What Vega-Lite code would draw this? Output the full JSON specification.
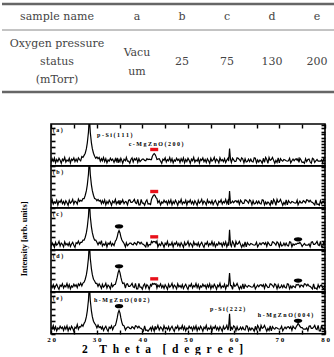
{
  "$schema": "https://vega.github.io/schema/vega-lite/v6.json",
  "padding": 0,
  "background": "white",
  "spacing": 27,
  "config": {
    "font": "Liberation Serif",
    "view": {"stroke": "black", "strokeWidth": 1.6}
  },
  "vconcat": [
    {
      "width": 285,
      "height": 96,
      "view": {"stroke": null},
      "layer": [
        {
          "data": {"values": [{"edge": "top"}, {"edge": "bottom"}]},
          "mark": {"type": "rule", "color": "#666", "strokeWidth": 2.5},
          "encoding": {
            "x": {"datum": 0, "type": "quantitative", "scale": {"domain": [0, 1], "range": [-49, 285]}, "axis": null},
            "x2": {"datum": 1},
            "y": {"field": "edge", "type": "nominal", "scale": {"type": "point", "domain": ["top", "bottom"], "range": [4, 92], "padding": 0}, "axis": null}
          }
        },
        {
          "data": {"values": [{"edge": "header"}]},
          "mark": {"type": "rule", "color": "#888", "strokeWidth": 1},
          "encoding": {
            "x": {"datum": 0, "type": "quantitative", "scale": {"domain": [0, 1], "range": [-49, 285]}, "axis": null},
            "x2": {"datum": 1},
            "y": {"field": "edge", "type": "nominal", "scale": {"type": "point", "domain": ["header"], "range": [30, 30], "padding": 0}, "axis": null}
          }
        },
        {
          "data": {
            "values": [
              {"col": "name", "row": "h", "txt": "sample name"},
              {"col": "name", "row": "v", "txt": "Oxygen pressure\nstatus\n(mTorr)"}
            ]
          },
          "mark": {"type": "text", "font": "DejaVu Serif", "fontSize": 11, "color": "#444", "lineBreak": "\n", "lineHeight": 18, "baseline": "middle"},
          "encoding": {
            "x": {"field": "col", "type": "nominal", "scale": {"type": "point", "domain": ["name"], "range": [-49, 61]}, "axis": null},
            "y": {"field": "row", "type": "nominal", "scale": {"type": "point", "domain": ["h", "v"], "range": [3.5, 57.5]}, "axis": null},
            "text": {"field": "txt"}
          }
        },
        {
          "data": {
            "values": [
              {"col": "a", "row": "h", "txt": "a"},
              {"col": "b", "row": "h", "txt": "b"},
              {"col": "c", "row": "h", "txt": "c"},
              {"col": "d", "row": "h", "txt": "d"},
              {"col": "e", "row": "h", "txt": "e"},
              {"col": "b", "row": "v", "txt": "25"},
              {"col": "c", "row": "v", "txt": "75"},
              {"col": "d", "row": "v", "txt": "130"},
              {"col": "e", "row": "v", "txt": "200"}
            ]
          },
          "mark": {"type": "text", "font": "DejaVu Serif", "fontSize": 11, "color": "#444", "baseline": "middle"},
          "encoding": {
            "x": {"field": "col", "type": "nominal", "scale": {"type": "point", "domain": ["a", "b", "c", "d", "e"], "range": [63.5, 288.5]}, "axis": null},
            "y": {"field": "row", "type": "nominal", "scale": {"type": "point", "domain": ["h", "v"], "range": [-5.5, 84.5]}, "axis": null},
            "text": {"field": "txt"}
          }
        },
        {
          "data": {"values": [{"col": "a", "row": "v", "txt": "Vacu\num"}]},
          "mark": {"type": "text", "font": "DejaVu Serif", "fontSize": 11, "color": "#444", "lineBreak": "\n", "lineHeight": 19, "baseline": "middle"},
          "encoding": {
            "x": {"field": "col", "type": "nominal", "scale": {"type": "point", "domain": ["a"], "range": [86, 86]}, "axis": null},
            "y": {"field": "row", "type": "nominal", "scale": {"type": "point", "domain": ["v"], "range": [53, 53]}, "axis": null},
            "text": {"field": "txt"}
          }
        }
      ],
      "resolve": {"scale": {"x": "independent", "y": "independent"}}
    },
    {
      "data": {
        "values": [
          {"t": 20.0, "a": 8, "b": 12, "c": 8, "d": 15, "e": 15},
          {"t": 20.25, "a": 17, "b": 20, "c": 17, "d": 10, "e": 12},
          {"t": 20.5, "a": 11, "b": 9, "c": 12, "d": 17, "e": 20},
          {"t": 20.75, "a": 19, "b": 14, "c": 6, "d": 8, "e": 10},
          {"t": 21.0, "a": 7, "b": 11, "c": 18, "d": 14, "e": 17},
          {"t": 21.25, "a": 15, "b": 18, "c": 11, "d": 18, "e": 7},
          {"t": 21.5, "a": 10, "b": 7, "c": 14, "d": 11, "e": 14},
          {"t": 21.75, "a": 18, "b": 16, "c": 20, "d": 6, "e": 11},
          {"t": 22.0, "a": 13, "b": 13, "c": 9, "d": 16, "e": 18},
          {"t": 22.25, "a": 6, "b": 19, "c": 16, "d": 13, "e": 13},
          {"t": 22.5, "a": 16, "b": 10, "c": 13, "d": 19, "e": 16},
          {"t": 22.75, "a": 12, "b": 15, "c": 7, "d": 9, "e": 8},
          {"t": 23.0, "a": 20, "b": 8, "c": 19, "d": 15, "e": 17},
          {"t": 23.25, "a": 9, "b": 17, "c": 12, "d": 12, "e": 11},
          {"t": 23.5, "a": 14, "b": 12, "c": 15, "d": 20, "e": 19},
          {"t": 23.75, "a": 11, "b": 6, "c": 10, "d": 10, "e": 7},
          {"t": 24.0, "a": 18, "b": 18, "c": 17, "d": 17, "e": 15},
          {"t": 24.25, "a": 7, "b": 11, "c": 8, "d": 7, "e": 10},
          {"t": 24.5, "a": 16, "b": 14, "c": 14, "d": 14, "e": 18},
          {"t": 24.75, "a": 13, "b": 20, "c": 18, "d": 11, "e": 13},
          {"t": 25.0, "a": 19, "b": 9, "c": 11, "d": 18, "e": 6},
          {"t": 25.25, "a": 10, "b": 16, "c": 6, "d": 13, "e": 16},
          {"t": 25.5, "a": 16, "b": 14, "c": 17, "d": 17, "e": 13},
          {"t": 25.75, "a": 10, "b": 9, "c": 15, "d": 10, "e": 22},
          {"t": 26.0, "a": 19, "b": 21, "c": 21, "d": 19, "e": 11},
          {"t": 26.25, "a": 15, "b": 15, "c": 13, "d": 15, "e": 17},
          {"t": 26.5, "a": 12, "b": 18, "c": 18, "d": 21, "e": 16},
          {"t": 26.75, "a": 22, "b": 16, "c": 18, "d": 14, "e": 22},
          {"t": 27.0, "a": 20, "b": 22, "c": 23, "d": 21, "e": 18},
          {"t": 27.25, "a": 25, "b": 22, "c": 23, "d": 23, "e": 25},
          {"t": 27.5, "a": 30, "b": 30, "c": 30, "d": 30, "e": 30},
          {"t": 27.75, "a": 41, "b": 41, "c": 41, "d": 41, "e": 41},
          {"t": 27.95, "a": 55, "b": 55, "c": 55, "d": 55, "e": 55},
          {"t": 28.1, "a": 70, "b": 70, "c": 70, "d": 70, "e": 70},
          {"t": 28.2, "a": 80, "b": 80, "c": 80, "d": 80, "e": 80},
          {"t": 28.3, "a": 100, "b": 100, "c": 100, "d": 100, "e": 100},
          {"t": 28.4, "a": 100, "b": 100, "c": 100, "d": 100, "e": 100},
          {"t": 28.5, "a": 100, "b": 100, "c": 100, "d": 100, "e": 100},
          {"t": 28.6, "a": 80, "b": 80, "c": 80, "d": 80, "e": 80},
          {"t": 28.7, "a": 70, "b": 70, "c": 70, "d": 70, "e": 70},
          {"t": 28.85, "a": 55, "b": 55, "c": 55, "d": 55, "e": 55},
          {"t": 29.05, "a": 41, "b": 41, "c": 41, "d": 41, "e": 41},
          {"t": 29.3, "a": 30, "b": 30, "c": 30, "d": 30, "e": 30},
          {"t": 29.55, "a": 23, "b": 22, "c": 23, "d": 26, "e": 25},
          {"t": 29.8, "a": 18, "b": 21, "c": 23, "d": 20, "e": 21},
          {"t": 30.05, "a": 21, "b": 17, "c": 18, "d": 20, "e": 14},
          {"t": 30.3, "a": 17, "b": 20, "c": 12, "d": 13, "e": 21},
          {"t": 30.55, "a": 20, "b": 16, "c": 18, "d": 19, "e": 15},
          {"t": 30.8, "a": 11, "b": 18, "c": 14, "d": 14, "e": 17},
          {"t": 31.05, "a": 17, "b": 10, "c": 22, "d": 8, "e": 12},
          {"t": 31.25, "a": 12, "b": 17, "c": 9, "d": 18, "e": 17},
          {"t": 31.5, "a": 20, "b": 11, "c": 14, "d": 11, "e": 8},
          {"t": 31.75, "a": 10, "b": 19, "c": 11, "d": 14, "e": 14},
          {"t": 32.0, "a": 17, "b": 7, "c": 18, "d": 20, "e": 18},
          {"t": 32.25, "a": 7, "b": 15, "c": 7, "d": 9, "e": 11},
          {"t": 32.5, "a": 14, "b": 10, "c": 16, "d": 16, "e": 6},
          {"t": 32.75, "a": 11, "b": 18, "c": 13, "d": 13, "e": 16},
          {"t": 33.0, "a": 18, "b": 13, "c": 19, "d": 7, "e": 13},
          {"t": 33.25, "a": 13, "b": 6, "c": 10, "d": 19, "e": 19},
          {"t": 33.5, "a": 16, "b": 16, "c": 15, "d": 12, "e": 10},
          {"t": 33.8, "a": 8, "b": 12, "c": 10, "d": 17, "e": 18},
          {"t": 34.1, "a": 17, "b": 20, "c": 21, "d": 18, "e": 20},
          {"t": 34.3, "a": 11, "b": 9, "c": 24, "d": 26, "e": 28},
          {"t": 34.5, "a": 19, "b": 14, "c": 31, "d": 35, "e": 38},
          {"t": 34.7, "a": 7, "b": 11, "c": 41, "d": 46, "e": 50},
          {"t": 34.9, "a": 15, "b": 18, "c": 46, "d": 52, "e": 56},
          {"t": 35.1, "a": 10, "b": 7, "c": 41, "d": 46, "e": 50},
          {"t": 35.3, "a": 18, "b": 16, "c": 31, "d": 35, "e": 38},
          {"t": 35.5, "a": 13, "b": 13, "c": 24, "d": 26, "e": 28},
          {"t": 35.7, "a": 6, "b": 19, "c": 20, "d": 20, "e": 21},
          {"t": 36.0, "a": 16, "b": 10, "c": 15, "d": 21, "e": 19},
          {"t": 36.3, "a": 12, "b": 15, "c": 7, "d": 9, "e": 9},
          {"t": 36.5, "a": 20, "b": 14, "c": 17, "d": 18, "e": 13},
          {"t": 36.75, "a": 11, "b": 7, "c": 10, "d": 19, "e": 16},
          {"t": 37.0, "a": 11, "b": 18, "c": 13, "d": 13, "e": 16},
          {"t": 37.25, "a": 6, "b": 19, "c": 16, "d": 13, "e": 13},
          {"t": 37.5, "a": 15, "b": 13, "c": 16, "d": 16, "e": 12},
          {"t": 37.75, "a": 19, "b": 13, "c": 13, "d": 20, "e": 17},
          {"t": 38.0, "a": 9, "b": 16, "c": 12, "d": 12, "e": 15},
          {"t": 38.25, "a": 17, "b": 20, "c": 17, "d": 10, "e": 12},
          {"t": 38.5, "a": 14, "b": 12, "c": 15, "d": 20, "e": 19},
          {"t": 38.75, "a": 18, "b": 10, "c": 12, "d": 7, "e": 18},
          {"t": 39.0, "a": 8, "b": 20, "c": 19, "d": 7, "e": 14},
          {"t": 39.25, "a": 17, "b": 7, "c": 18, "d": 20, "e": 18},
          {"t": 39.5, "a": 10, "b": 7, "c": 14, "d": 11, "e": 14},
          {"t": 39.75, "a": 13, "b": 20, "c": 18, "d": 11, "e": 13},
          {"t": 40.0, "a": 16, "b": 11, "c": 14, "d": 6, "e": 10},
          {"t": 40.25, "a": 16, "b": 11, "c": 13, "d": 15, "e": 7},
          {"t": 40.5, "a": 13, "b": 6, "c": 10, "d": 19, "e": 19},
          {"t": 40.75, "a": 12, "b": 15, "c": 7, "d": 9, "e": 8},
          {"t": 41.0, "a": 17, "b": 19, "c": 19, "d": 17, "e": 9},
          {"t": 41.25, "a": 15, "b": 9, "c": 8, "d": 14, "e": 6},
          {"t": 41.5, "a": 16, "b": 10, "c": 13, "d": 6, "e": 10},
          {"t": 41.8, "a": 15, "b": 8, "c": 12, "d": 17, "e": 15},
          {"t": 42.0, "a": 15, "b": 20, "c": 20, "d": 14, "e": 8},
          {"t": 42.2, "a": 23, "b": 25, "c": 17, "d": 20, "e": 17},
          {"t": 42.4, "a": 27, "b": 29, "c": 20, "d": 18, "e": 12},
          {"t": 42.6, "a": 29, "b": 31, "c": 19, "d": 20, "e": 6},
          {"t": 42.8, "a": 27, "b": 29, "c": 20, "d": 18, "e": 18},
          {"t": 43.0, "a": 22, "b": 24, "c": 16, "d": 19, "e": 11},
          {"t": 43.2, "a": 15, "b": 22, "c": 21, "d": 9, "e": 14},
          {"t": 43.4, "a": 16, "b": 12, "c": 7, "d": 16, "e": 20},
          {"t": 43.7, "a": 17, "b": 17, "c": 14, "d": 12, "e": 9},
          {"t": 44.0, "a": 11, "b": 7, "c": 10, "d": 19, "e": 16},
          {"t": 44.25, "a": 6, "b": 14, "c": 18, "d": 10, "e": 13},
          {"t": 44.5, "a": 16, "b": 11, "c": 13, "d": 15, "e": 7},
          {"t": 44.75, "a": 13, "b": 18, "c": 6, "d": 8, "e": 19},
          {"t": 45.0, "a": 19, "b": 13, "c": 16, "d": 17, "e": 12},
          {"t": 45.25, "a": 9, "b": 16, "c": 12, "d": 12, "e": 15},
          {"t": 45.5, "a": 15, "b": 8, "c": 20, "d": 6, "e": 10},
          {"t": 45.75, "a": 12, "b": 17, "c": 9, "d": 18, "e": 17},
          {"t": 46.0, "a": 20, "b": 11, "c": 14, "d": 11, "e": 8},
          {"t": 46.25, "a": 10, "b": 19, "c": 11, "d": 14, "e": 14},
          {"t": 46.5, "a": 17, "b": 7, "c": 18, "d": 20, "e": 18},
          {"t": 46.75, "a": 7, "b": 15, "c": 7, "d": 9, "e": 11},
          {"t": 47.0, "a": 14, "b": 10, "c": 16, "d": 16, "e": 6},
          {"t": 47.25, "a": 11, "b": 18, "c": 13, "d": 13, "e": 16},
          {"t": 47.5, "a": 18, "b": 13, "c": 19, "d": 7, "e": 13},
          {"t": 47.75, "a": 13, "b": 6, "c": 10, "d": 19, "e": 19},
          {"t": 48.0, "a": 16, "b": 16, "c": 15, "d": 12, "e": 9},
          {"t": 48.25, "a": 8, "b": 12, "c": 8, "d": 15, "e": 15},
          {"t": 48.5, "a": 17, "b": 20, "c": 17, "d": 10, "e": 12},
          {"t": 48.75, "a": 11, "b": 9, "c": 12, "d": 17, "e": 20},
          {"t": 49.0, "a": 19, "b": 14, "c": 6, "d": 8, "e": 10},
          {"t": 49.25, "a": 7, "b": 11, "c": 18, "d": 14, "e": 17},
          {"t": 49.5, "a": 15, "b": 18, "c": 11, "d": 18, "e": 7},
          {"t": 49.75, "a": 10, "b": 7, "c": 14, "d": 11, "e": 14},
          {"t": 50.0, "a": 18, "b": 16, "c": 20, "d": 6, "e": 11},
          {"t": 50.25, "a": 13, "b": 13, "c": 9, "d": 16, "e": 18},
          {"t": 50.5, "a": 6, "b": 19, "c": 16, "d": 13, "e": 13},
          {"t": 50.75, "a": 16, "b": 10, "c": 13, "d": 19, "e": 16},
          {"t": 51.0, "a": 12, "b": 15, "c": 7, "d": 9, "e": 8},
          {"t": 51.25, "a": 20, "b": 8, "c": 19, "d": 15, "e": 17},
          {"t": 51.5, "a": 9, "b": 17, "c": 12, "d": 12, "e": 11},
          {"t": 51.75, "a": 14, "b": 12, "c": 15, "d": 20, "e": 19},
          {"t": 52.0, "a": 11, "b": 6, "c": 10, "d": 10, "e": 7},
          {"t": 52.25, "a": 18, "b": 18, "c": 17, "d": 17, "e": 15},
          {"t": 52.5, "a": 7, "b": 11, "c": 8, "d": 7, "e": 10},
          {"t": 52.75, "a": 16, "b": 14, "c": 14, "d": 14, "e": 18},
          {"t": 53.0, "a": 13, "b": 20, "c": 18, "d": 11, "e": 13},
          {"t": 53.25, "a": 19, "b": 9, "c": 11, "d": 18, "e": 6},
          {"t": 53.5, "a": 10, "b": 16, "c": 6, "d": 13, "e": 16},
          {"t": 53.75, "a": 15, "b": 13, "c": 16, "d": 16, "e": 12},
          {"t": 54.0, "a": 8, "b": 7, "c": 13, "d": 8, "e": 20},
          {"t": 54.25, "a": 17, "b": 19, "c": 19, "d": 17, "e": 9},
          {"t": 54.5, "a": 12, "b": 12, "c": 9, "d": 11, "e": 14},
          {"t": 54.75, "a": 6, "b": 15, "c": 15, "d": 19, "e": 11},
          {"t": 55.0, "a": 18, "b": 10, "c": 12, "d": 7, "e": 18},
          {"t": 55.25, "a": 11, "b": 17, "c": 20, "d": 15, "e": 7},
          {"t": 55.5, "a": 14, "b": 8, "c": 10, "d": 10, "e": 16},
          {"t": 55.75, "a": 20, "b": 14, "c": 17, "d": 18, "e": 13},
          {"t": 56.0, "a": 9, "b": 18, "c": 7, "d": 13, "e": 19},
          {"t": 56.25, "a": 16, "b": 11, "c": 14, "d": 6, "e": 10},
          {"t": 56.5, "a": 13, "b": 6, "c": 11, "d": 16, "e": 15},
          {"t": 56.75, "a": 7, "b": 16, "c": 18, "d": 12, "e": 8},
          {"t": 57.0, "a": 19, "b": 13, "c": 13, "d": 20, "e": 17},
          {"t": 57.25, "a": 12, "b": 19, "c": 16, "d": 9, "e": 12},
          {"t": 57.5, "a": 15, "b": 9, "c": 8, "d": 14, "e": 6},
          {"t": 57.75, "a": 10, "b": 15, "c": 17, "d": 11, "e": 18},
          {"t": 58.0, "a": 17, "b": 12, "c": 11, "d": 18, "e": 11},
          {"t": 58.25, "a": 8, "b": 20, "c": 19, "d": 7, "e": 14},
          {"t": 58.5, "a": 14, "b": 10, "c": 7, "d": 16, "e": 20},
          {"t": 58.75, "a": 18, "b": 17, "c": 15, "d": 13, "e": 9},
          {"t": 58.9, "a": 11, "b": 7, "c": 10, "d": 19, "e": 16},
          {"t": 59.1, "a": 41, "b": 40, "c": 48, "d": 45, "e": 48},
          {"t": 59.3, "a": 16, "b": 11, "c": 13, "d": 15, "e": 7},
          {"t": 59.5, "a": 8, "b": 12, "c": 8, "d": 15, "e": 15},
          {"t": 59.75, "a": 18, "b": 16, "c": 20, "d": 6, "e": 11},
          {"t": 60.0, "a": 14, "b": 12, "c": 15, "d": 20, "e": 19},
          {"t": 60.25, "a": 10, "b": 16, "c": 6, "d": 13, "e": 16},
          {"t": 60.5, "a": 11, "b": 17, "c": 20, "d": 15, "e": 7},
          {"t": 60.75, "a": 19, "b": 13, "c": 13, "d": 20, "e": 17},
          {"t": 61.0, "a": 18, "b": 17, "c": 15, "d": 13, "e": 9},
          {"t": 61.25, "a": 15, "b": 8, "c": 20, "d": 6, "e": 10},
          {"t": 61.5, "a": 11, "b": 18, "c": 13, "d": 13, "e": 16},
          {"t": 61.75, "a": 19, "b": 14, "c": 6, "d": 8, "e": 10},
          {"t": 62.0, "a": 16, "b": 10, "c": 13, "d": 19, "e": 16},
          {"t": 62.25, "a": 7, "b": 11, "c": 8, "d": 7, "e": 10},
          {"t": 62.5, "a": 17, "b": 19, "c": 19, "d": 17, "e": 9},
          {"t": 62.75, "a": 9, "b": 18, "c": 7, "d": 13, "e": 19},
          {"t": 63.0, "a": 10, "b": 15, "c": 17, "d": 11, "e": 18},
          {"t": 63.25, "a": 16, "b": 11, "c": 13, "d": 15, "e": 7},
          {"t": 63.5, "a": 10, "b": 19, "c": 11, "d": 14, "e": 14},
          {"t": 63.75, "a": 16, "b": 16, "c": 15, "d": 12, "e": 9},
          {"t": 64.0, "a": 10, "b": 7, "c": 14, "d": 11, "e": 14},
          {"t": 64.25, "a": 9, "b": 17, "c": 12, "d": 12, "e": 11},
          {"t": 64.5, "a": 19, "b": 9, "c": 11, "d": 18, "e": 6},
          {"t": 64.75, "a": 18, "b": 10, "c": 12, "d": 7, "e": 18},
          {"t": 65.0, "a": 7, "b": 16, "c": 18, "d": 12, "e": 8},
          {"t": 65.25, "a": 14, "b": 10, "c": 7, "d": 16, "e": 20},
          {"t": 65.5, "a": 9, "b": 16, "c": 12, "d": 12, "e": 15},
          {"t": 65.75, "a": 14, "b": 10, "c": 16, "d": 16, "e": 6},
          {"t": 66.0, "a": 11, "b": 9, "c": 12, "d": 17, "e": 20},
          {"t": 66.25, "a": 6, "b": 19, "c": 16, "d": 13, "e": 13},
          {"t": 66.5, "a": 18, "b": 18, "c": 17, "d": 17, "e": 15},
          {"t": 66.75, "a": 8, "b": 7, "c": 13, "d": 8, "e": 20},
          {"t": 67.0, "a": 20, "b": 14, "c": 17, "d": 18, "e": 13},
          {"t": 67.25, "a": 15, "b": 9, "c": 8, "d": 14, "e": 6},
          {"t": 67.5, "a": 6, "b": 14, "c": 18, "d": 10, "e": 13},
          {"t": 67.75, "a": 20, "b": 11, "c": 14, "d": 11, "e": 8},
          {"t": 68.0, "a": 13, "b": 6, "c": 10, "d": 19, "e": 19},
          {"t": 68.25, "a": 15, "b": 18, "c": 11, "d": 18, "e": 7},
          {"t": 68.5, "a": 20, "b": 8, "c": 19, "d": 15, "e": 17},
          {"t": 68.75, "a": 13, "b": 20, "c": 18, "d": 11, "e": 13},
          {"t": 69.0, "a": 6, "b": 15, "c": 15, "d": 19, "e": 11},
          {"t": 69.25, "a": 13, "b": 6, "c": 11, "d": 16, "e": 15},
          {"t": 69.5, "a": 8, "b": 20, "c": 19, "d": 7, "e": 14},
          {"t": 69.75, "a": 19, "b": 13, "c": 16, "d": 17, "e": 12},
          {"t": 70.0, "a": 7, "b": 15, "c": 7, "d": 9, "e": 11},
          {"t": 70.25, "a": 17, "b": 20, "c": 17, "d": 10, "e": 12},
          {"t": 70.5, "a": 13, "b": 13, "c": 9, "d": 16, "e": 18},
          {"t": 70.75, "a": 11, "b": 6, "c": 10, "d": 10, "e": 7},
          {"t": 71.0, "a": 15, "b": 13, "c": 16, "d": 16, "e": 12},
          {"t": 71.25, "a": 14, "b": 8, "c": 10, "d": 10, "e": 16},
          {"t": 71.5, "a": 12, "b": 19, "c": 16, "d": 9, "e": 12},
          {"t": 71.75, "a": 11, "b": 7, "c": 10, "d": 19, "e": 16},
          {"t": 72.0, "a": 12, "b": 17, "c": 9, "d": 18, "e": 17},
          {"t": 72.25, "a": 18, "b": 13, "c": 19, "d": 7, "e": 13},
          {"t": 72.5, "a": 7, "b": 11, "c": 18, "d": 14, "e": 17},
          {"t": 72.75, "a": 12, "b": 15, "c": 7, "d": 9, "e": 8},
          {"t": 73.0, "a": 16, "b": 14, "c": 14, "d": 14, "e": 18},
          {"t": 73.25, "a": 12, "b": 12, "c": 11, "d": 12, "e": 14},
          {"t": 73.5, "a": 16, "b": 11, "c": 14, "d": 10, "e": 12},
          {"t": 73.7, "a": 17, "b": 12, "c": 13, "d": 17, "e": 17},
          {"t": 73.9, "a": 13, "b": 18, "c": 15, "d": 16, "e": 20},
          {"t": 74.1, "a": 17, "b": 7, "c": 16, "d": 18, "e": 25},
          {"t": 74.3, "a": 8, "b": 12, "c": 15, "d": 16, "e": 22},
          {"t": 74.5, "a": 18, "b": 16, "c": 18, "d": 11, "e": 18},
          {"t": 74.75, "a": 14, "b": 12, "c": 14, "d": 16, "e": 15},
          {"t": 75.0, "a": 8, "b": 12, "c": 8, "d": 15, "e": 15},
          {"t": 75.25, "a": 9, "b": 17, "c": 12, "d": 12, "e": 11},
          {"t": 75.5, "a": 6, "b": 15, "c": 15, "d": 19, "e": 11},
          {"t": 75.75, "a": 17, "b": 12, "c": 11, "d": 18, "e": 11},
          {"t": 76.0, "a": 10, "b": 19, "c": 11, "d": 14, "e": 14},
          {"t": 76.25, "a": 15, "b": 18, "c": 11, "d": 18, "e": 7},
          {"t": 76.5, "a": 16, "b": 14, "c": 14, "d": 14, "e": 18},
          {"t": 76.75, "a": 9, "b": 18, "c": 7, "d": 13, "e": 19},
          {"t": 77.0, "a": 6, "b": 14, "c": 18, "d": 10, "e": 13},
          {"t": 77.25, "a": 18, "b": 13, "c": 19, "d": 7, "e": 13},
          {"t": 77.5, "a": 16, "b": 10, "c": 13, "d": 19, "e": 16},
          {"t": 77.75, "a": 8, "b": 7, "c": 13, "d": 8, "e": 20},
          {"t": 78.0, "a": 12, "b": 19, "c": 16, "d": 9, "e": 12},
          {"t": 78.25, "a": 15, "b": 8, "c": 20, "d": 6, "e": 10},
          {"t": 78.5, "a": 11, "b": 9, "c": 12, "d": 17, "e": 20},
          {"t": 78.75, "a": 11, "b": 6, "c": 10, "d": 10, "e": 7},
          {"t": 79.0, "a": 11, "b": 17, "c": 20, "d": 15, "e": 7},
          {"t": 79.25, "a": 14, "b": 10, "c": 7, "d": 16, "e": 20},
          {"t": 79.5, "a": 7, "b": 15, "c": 7, "d": 9, "e": 11},
          {"t": 79.75, "a": 18, "b": 16, "c": 20, "d": 6, "e": 11},
          {"t": 80.0, "a": 19, "b": 9, "c": 11, "d": 18, "e": 6},
          {"t": 42.6, "a": 39, "m": "r"},
          {"t": 42.6, "b": 39, "m": "r"},
          {"t": 42.6, "c": 31, "m": "r"},
          {"t": 42.6, "d": 31, "m": "r"},
          {"t": 34.9, "c": 56, "m": "k"},
          {"t": 34.9, "d": 61, "m": "k"},
          {"t": 34.9, "e": 66, "m": "k"},
          {"t": 74.1, "c": 25, "m": "k"},
          {"t": 74.1, "d": 27, "m": "k"},
          {"t": 74.1, "e": 31, "m": "k"},
          {"t": 20.4, "a": 86, "lab": "( a )"},
          {"t": 20.4, "b": 86, "lab": "( b )"},
          {"t": 20.4, "c": 86, "lab": "( c )"},
          {"t": 20.4, "d": 86, "lab": "( d )"},
          {"t": 20.4, "e": 86, "lab": "( e )"},
          {"t": 30.1, "a": 73, "lab": "p - S i ( 1 1 1 )"},
          {"t": 37.0, "a": 53, "lab": "c - M g Z n O ( 2 0 0 )"},
          {"t": 29.4, "e": 80, "lab": "h - M g Z n O ( 0 0 2 )"},
          {"t": 54.8, "e": 59, "lab": "p - S i ( 2 2 2 )"},
          {"t": 65.3, "e": 44, "lab": "h - M g Z n O ( 0 0 4 )"}
        ]
      },
      "transform": [
        {"fold": ["a", "b", "c", "d", "e"], "as": ["s", "v"]},
        {"filter": "isValid(datum.v)"}
      ],
      "title": {
        "text": "Intensity [arb. units]",
        "orient": "left",
        "anchor": "middle",
        "font": "Liberation Serif",
        "fontSize": 8.5,
        "fontWeight": "bold",
        "color": "black",
        "offset": 18
      },
      "facet": {"row": {"field": "s", "type": "nominal", "header": null}},
      "spacing": 0,
      "bounds": "flush",
      "spec": {
        "width": 274,
        "height": 41.8,
        "layer": [
          {
            "transform": [{"filter": "!datum.m && !datum.lab"}],
            "mark": {"type": "line", "color": "black", "strokeWidth": 1.2, "clip": true},
            "encoding": {
              "x": {
                "field": "t", "type": "quantitative",
                "scale": {"domain": [20, 80], "nice": false, "zero": false},
                "axis": {
                  "orient": "bottom",
                  "values": [20, 25, 30, 35, 40, 45, 50, 55, 60, 65, 70, 75, 80],
                  "domain": false, "grid": false,
                  "tickSize": 4, "offset": -4, "tickWidth": 1.4, "tickColor": "black",
                  "labelExpr": "datum.value % 10 === 0 ? floor(datum.value / 10) + ' ' + (datum.value % 10) : ''",
                  "labelOverlap": false, "labelFlush": false, "labelBound": false,
                  "labelFont": "Liberation Serif", "labelFontWeight": "bold", "labelFontSize": 7, "labelColor": "black", "labelPadding": 1,
                  "title": "2\u2002\u2002T\u2002h\u2002e\u2002t\u2002a\u2002\u2002[\u2002d\u2002e\u2002g\u2002r\u2002e\u2002e\u2002]",
                  "titleFont": "Liberation Serif", "titleFontWeight": "bold", "titleFontSize": 11.5, "titleColor": "black",
                  "titlePadding": 1, "titleX": 111
                }
              },
              "y": {
                "field": "v", "type": "quantitative",
                "scale": {"domain": [0, 100], "nice": false},
                "axis": {
                  "orient": "left", "values": [0, 15, 30, 45, 60, 75, 90],
                  "labels": false, "domain": false, "grid": false, "title": null,
                  "tickSize": 4, "offset": -4, "tickWidth": 1.6, "tickColor": "black"
                }
              }
            }
          },
          {
            "transform": [{"filter": "!datum.m && !datum.lab"}],
            "mark": {"type": "line", "opacity": 0},
            "encoding": {
              "x": {
                "field": "t", "type": "quantitative",
                "axis": {
                  "orient": "top", "values": [20, 25, 30, 35, 40, 45, 50, 55, 60, 65, 70, 75, 80],
                  "labels": false, "domain": false, "grid": false, "title": null,
                  "tickSize": 4, "offset": -4, "tickWidth": 1.4, "tickColor": "black"
                }
              },
              "y": {
                "field": "v", "type": "quantitative",
                "axis": {
                  "orient": "right", "values": [0, 7, 15, 22, 30, 37, 45, 52, 60, 67, 75, 82, 90, 97],
                  "labels": false, "domain": false, "grid": false, "title": null,
                  "tickSize": 4, "offset": -4, "tickWidth": 1.6, "tickColor": "black"
                }
              }
            }
          },
          {
            "transform": [{"filter": "datum.m === 'r'"}],
            "mark": {"type": "point", "shape": "M-1,-0.42H1V0.42H-1Z", "filled": true, "color": "#e8101a", "opacity": 1, "size": 64},
            "encoding": {
              "x": {"field": "t", "type": "quantitative", "axis": null},
              "y": {"field": "v", "type": "quantitative", "axis": null}
            }
          },
          {
            "transform": [{"filter": "datum.m === 'k'"}],
            "mark": {"type": "point", "shape": "M-1,0A1,0.5,0,1,1,1,0A1,0.5,0,1,1,-1,0Z", "filled": true, "color": "black", "opacity": 1, "size": 72},
            "encoding": {
              "x": {"field": "t", "type": "quantitative", "axis": null},
              "y": {"field": "v", "type": "quantitative", "axis": null}
            }
          },
          {
            "transform": [{"filter": "datum.lab"}],
            "mark": {"type": "text", "align": "left", "baseline": "middle", "font": "Liberation Serif", "fontWeight": "bold", "fontSize": 6, "color": "black"},
            "encoding": {
              "x": {"field": "t", "type": "quantitative", "axis": null},
              "y": {"field": "v", "type": "quantitative", "axis": null},
              "text": {"field": "lab"}
            }
          }
        ],
        "resolve": {"axis": {"x": "independent", "y": "independent"}}
      }
    }
  ]
}
